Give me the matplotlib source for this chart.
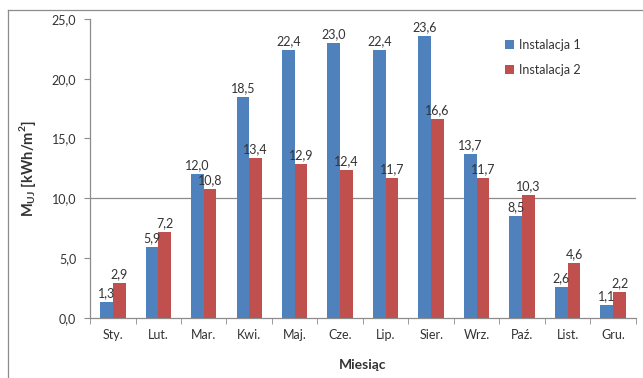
import matplotlib
matplotlib.use("Agg")
import matplotlib.pyplot as plt
from matplotlib.lines import Line2D
import numpy as np

months = ["Sty.", "Lut.", "Mar.", "Kwi.", "Maj.", "Cze.", "Lip.", "Sier.",
          "Wrz.", "Paź.", "List.", "Gru."]
inst1 = [1.3, 5.9, 12.0, 18.5, 22.4, 23.0, 22.4, 23.6, 13.7, 8.5, 2.6, 1.1]
inst2 = [2.9, 7.2, 10.8, 13.4, 12.9, 12.4, 11.7, 16.6, 11.7, 10.3, 4.6, 2.2]
series_names = ["Instalacja 1", "Instalacja 2"]
y_ticks = [0, 5, 10, 15, 20, 25]

plt.rcParams["font.family"] = ["Lato", "DejaVu Sans"]
plt.rcParams["mathtext.fontset"] = "custom"
plt.rcParams["mathtext.rm"] = "Lato:bold"
plt.rcParams["mathtext.bf"] = "Lato:bold"

BLUE = "#4F81BD"
RED = "#C0504D"
GRAY = "#8C8C8C"
TXT = "#333333"

fig = plt.figure(figsize=(6.43, 3.78), dpi=100)
ax = fig.add_axes([0.140, 0.159, 0.849, 0.791])

x = np.arange(len(months))
w = 0.28
b1 = ax.bar(x - w / 2, inst1, w, color=BLUE, label=series_names[0], zorder=3)
b2 = ax.bar(x + w / 2, inst2, w, color=RED, label=series_names[1], zorder=3)

def fmt(v):
    return f"{v:.1f}".replace(".", ",")

for bars, vals in ((b1, inst1), (b2, inst2)):
    for r, v in zip(bars, vals):
        ax.annotate(fmt(v), (r.get_x() + r.get_width() / 2, v),
                    xytext=(0, 2), textcoords="offset points",
                    ha="center", va="bottom", fontsize=9, color=TXT, zorder=4)

ax.set_xlim(-0.5, len(months) - 0.5)
ax.set_ylim(0, 25)
ax.set_yticks(y_ticks)
ax.set_yticklabels([fmt(v) for v in y_ticks], fontsize=9, color=TXT)
ax.set_xticks(x)
ax.set_xticklabels(months, fontsize=9, color=TXT)
ax.tick_params(axis="x", length=0, pad=8)
ax.set_xticks(np.arange(-0.5, len(months), 1.0), minor=True)
ax.tick_params(axis="x", which="minor", length=4, color=GRAY, direction="out")
ax.tick_params(axis="y", length=4, color=GRAY, direction="out", pad=6)

ax.axhline(10, color=GRAY, lw=0.9, zorder=1)

for s in ("top", "right"):
    ax.spines[s].set_visible(False)
for s in ("left", "bottom"):
    ax.spines[s].set_color(GRAY)
    ax.spines[s].set_linewidth(0.9)

ax.set_ylabel(r"M$_{\mathbf{UJ}}$ [kWh/m$^{\mathbf{2}}$]", fontsize=10.5,
              fontweight="bold", color=TXT, labelpad=10)
ax.set_xlabel("Miesiąc", fontsize=10, fontweight="bold", color=TXT, labelpad=13)

ax.legend(loc="upper left", bbox_to_anchor=(0.74, 0.97),
          frameon=False, fontsize=9, handlelength=0.7, handleheight=0.7,
          labelspacing=1.0, handletextpad=0.4, labelcolor=TXT)

# outer frame
fig.add_artist(Line2D([8 / 643, 8 / 643], [0, 1 - 10 / 378], transform=fig.transFigure,
                      color=GRAY, lw=0.9))
fig.add_artist(Line2D([8 / 643, 1], [1 - 10 / 378, 1 - 10 / 378], transform=fig.transFigure,
                      color=GRAY, lw=0.9))

fig.savefig("out.png", dpi=100)
